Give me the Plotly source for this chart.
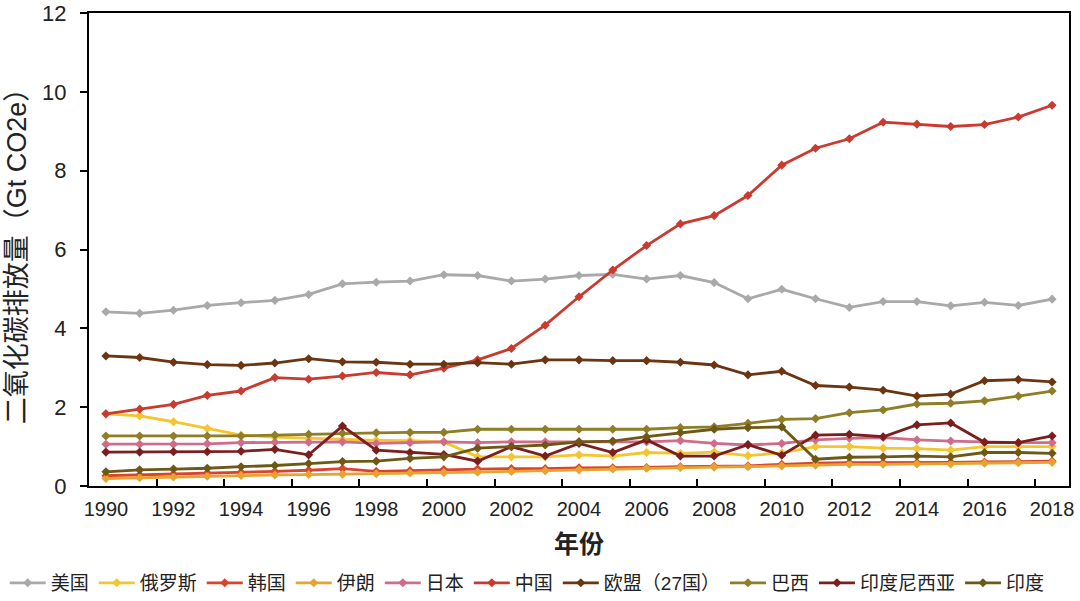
import plotly.graph_objects as go

years = list(range(1990, 2019))

usa = [4.42, 4.38, 4.46, 4.58, 4.65, 4.71, 4.86, 5.13, 5.17, 5.20, 5.36, 5.34, 5.20, 5.25, 5.34,
       5.37, 5.25, 5.34, 5.16, 4.75, 4.99, 4.75, 4.53, 4.68, 4.68, 4.57, 4.66, 4.58, 4.74]
russia = [1.83, 1.78, 1.63, 1.46, 1.29, 1.24, 1.21, 1.18, 1.16, 1.15, 1.12, 0.74, 0.74, 0.74, 0.79,
          0.76, 0.85, 0.83, 0.86, 0.77, 0.84, 1.00, 1.00, 0.96, 0.95, 0.91, 1.00, 1.00, 1.00]
korea = [0.26, 0.28, 0.30, 0.33, 0.35, 0.37, 0.40, 0.44, 0.37, 0.39, 0.42, 0.43, 0.44, 0.44, 0.46,
         0.46, 0.47, 0.49, 0.50, 0.51, 0.55, 0.58, 0.59, 0.59, 0.59, 0.60, 0.61, 0.62, 0.63]
iran = [0.19, 0.21, 0.23, 0.25, 0.27, 0.28, 0.29, 0.30, 0.31, 0.33, 0.34, 0.35, 0.37, 0.39, 0.41,
        0.43, 0.45, 0.47, 0.48, 0.49, 0.51, 0.53, 0.55, 0.55, 0.56, 0.56, 0.58, 0.59, 0.60]
japan = [1.06, 1.06, 1.06, 1.07, 1.10, 1.11, 1.11, 1.12, 1.08, 1.10, 1.12, 1.10, 1.12, 1.12, 1.12,
         1.12, 1.12, 1.15, 1.08, 1.04, 1.08, 1.17, 1.21, 1.23, 1.17, 1.14, 1.12, 1.10, 1.10]
china = [1.83, 1.95, 2.07, 2.30, 2.41, 2.75, 2.71, 2.79, 2.88, 2.82, 2.99, 3.20, 3.49, 4.08, 4.80,
         5.48, 6.10, 6.65, 6.86, 7.37, 8.14, 8.57, 8.81, 9.23, 9.18, 9.12, 9.17, 9.36, 9.66]
eu27 = [3.30, 3.26, 3.14, 3.08, 3.06, 3.12, 3.23, 3.15, 3.14, 3.09, 3.09, 3.13, 3.09, 3.20, 3.20,
        3.18, 3.18, 3.14, 3.07, 2.82, 2.91, 2.55, 2.51, 2.43, 2.28, 2.33, 2.67, 2.70, 2.64]
brazil = [1.27, 1.27, 1.27, 1.27, 1.27, 1.29, 1.31, 1.34, 1.35, 1.36, 1.36, 1.44, 1.44, 1.44, 1.44,
          1.44, 1.44, 1.48, 1.50, 1.59, 1.69, 1.71, 1.86, 1.93, 2.08, 2.10, 2.16, 2.28, 2.41]
indonesia = [0.86, 0.86, 0.87, 0.87, 0.88, 0.93, 0.79, 1.52, 0.91, 0.85, 0.80, 0.63, 1.00, 0.76, 1.08,
             0.85, 1.17, 0.76, 0.76, 1.05, 0.78, 1.29, 1.31, 1.25, 1.55, 1.60, 1.11, 1.10, 1.27]
india = [0.36, 0.41, 0.43, 0.45, 0.49, 0.52, 0.57, 0.62, 0.63, 0.70, 0.74, 0.96, 1.00, 1.04, 1.12,
         1.14, 1.25, 1.35, 1.44, 1.48, 1.50, 0.68, 0.73, 0.74, 0.76, 0.74, 0.85, 0.85, 0.83]

series = [
    ("美国", usa, "#A9A9A9"),
    ("俄罗斯", russia, "#F3C530"),
    ("韩国", korea, "#D8452C"),
    ("伊朗", iran, "#E8A230"),
    ("日本", japan, "#D06B8A"),
    ("中国", china, "#C93A2F"),
    ("欧盟（27国）", eu27, "#6B3512"),
    ("巴西", brazil, "#8E7E26"),
    ("印度尼西亚", indonesia, "#7A1E1E"),
    ("印度", india, "#6E5816"),
]

FONT = "Arial, Liberation Sans, Noto Sans CJK SC"

fig = go.Figure()
for name, vals, color in series:
    fig.add_trace(go.Scatter(
        x=years, y=vals, name=name, mode="lines+markers",
        line=dict(color=color, width=2.8),
        marker=dict(symbol="diamond", size=7, color=color),
    ))

xticks = list(range(1990, 2019, 2))
minor_ticks = [y + 1.5 for y in range(1990, 2017, 2)]

fig.update_layout(
    width=1080, height=601,
    paper_bgcolor="white", plot_bgcolor="white",
    margin=dict(l=89, r=11, t=13, b=115, autoexpand=False),
    font=dict(family=FONT, color="#222222"),
    showlegend=True,
    legend=dict(orientation="h", x=-0.086, xanchor="left", xref="paper",
                y=-0.205, yanchor="middle", font=dict(size=19, family=FONT, color="#222"),
                itemwidth=36, tracegroupgap=0, traceorder="normal"),
    xaxis=dict(
        range=[1989.5, 2018.5], tickmode="array", tickvals=xticks,
        ticktext=[str(v) for v in xticks], ticks="", showgrid=False, zeroline=False,
        showline=True, linecolor="black", linewidth=2, mirror=True, automargin=False,
        tickfont=dict(size=20, family=FONT, color="#222"), ticklabelstandoff=4,
        title=dict(text="<b>年份</b>", font=dict(size=25, family=FONT, color="#222"), standoff=16),
        minor=dict(tickmode="array", tickvals=minor_ticks, ticks="inside", ticklen=7,
                   tickcolor="black", tickwidth=2, showgrid=False),
    ),
    yaxis=dict(
        range=[0, 12], tickmode="array", tickvals=[0, 2, 4, 6, 8, 10, 12],
        ticks="outside", ticklen=7, tickwidth=2, tickcolor="black",
        showgrid=False, zeroline=False, automargin=False,
        showline=True, linecolor="black", linewidth=2, mirror=True,
        tickfont=dict(size=22, family=FONT, color="#222"), ticklabelstandoff=9,
        title=dict(text="二氧化碳排放量（Gt CO2e）", font=dict(size=27, family=FONT, color="#222"), standoff=8),
    ),
)

fig.write_html("out.html", config={"displayModeBar": False},
               post_script="document.body.style.margin='0';document.body.style.overflow='hidden';")
